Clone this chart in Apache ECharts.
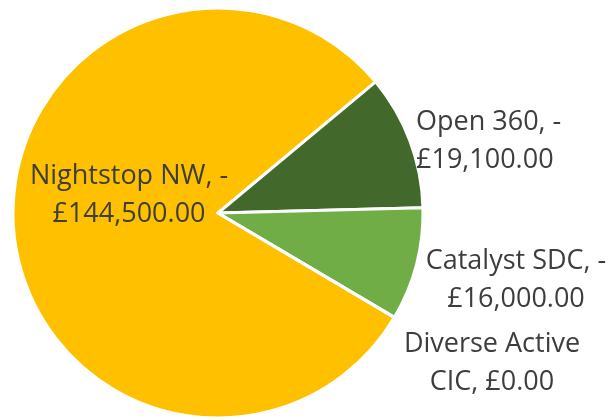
<!DOCTYPE html>
<html>
<head>
<meta charset="utf-8">
<script src="https://cdn.jsdelivr.net/npm/echarts@6/dist/echarts.min.js"></script>
<style>
  html, body { margin: 0; padding: 0; background: #fff; }
  #funding_pie { width: 609px; height: 420px; }
</style>
</head>
<body>
<div id="funding_pie"></div>
<script>
  // chart data
  const categories = ['Nightstop NW', 'Open 360', 'Catalyst SDC', 'Diverse Active CIC'];
  const amounts = [144500, 19100, 16000, 0];
  const colors = ['#FFC000', '#43682B', '#70AD47', '#A5A5A5'];

  // where each label sits (x, y, align)
  const labelSpots = [
    [129, 195, 'center'],
    [416, 141, 'left'],
    [516, 280, 'center'],
    [492, 363, 'center']
  ];

  function money(v) {
    return '£' + v.toLocaleString('en-GB', {minimumFractionDigits: 2, maximumFractionDigits: 2});
  }

  function labelText(name, value) {
    if (value > 0) {
      return name + ', -\n' + money(value);
    }
    // wrap the long name before its last word
    let cut = name.lastIndexOf(' ');
    return name.slice(0, cut) + '\n' + name.slice(cut + 1) + ', ' + money(value);
  }

  const pieData = categories.map((name, i) => ({
    name: name,
    value: amounts[i],
    itemStyle: {color: colors[i]}
  }));

  const chart = echarts.init(document.getElementById('funding_pie'));
  chart.setOption({
    animation: false,
    series: [
      {
        type: 'pie',
        center: [218, 213],
        radius: 205,
        startAngle: -30.6,
        clockwise: true,
        avoidLabelOverlap: false,
        data: pieData,
        itemStyle: {
          borderColor: '#ffffff',
          borderWidth: 3
        },
        label: {
          show: true,
          formatter: (p) => labelText(p.name, p.value),
          fontFamily: 'Open Sans',
          fontSize: 27,
          lineHeight: 38,
          color: '#3d3d3d'
        },
        labelLine: {show: false},
        labelLayout: (params) => {
          const s = labelSpots[params.dataIndex];
          return {x: s[0], y: s[1], align: s[2], verticalAlign: 'middle'};
        },
        emphasis: {disabled: true}
      }
    ]
  });
</script>
</body>
</html>
